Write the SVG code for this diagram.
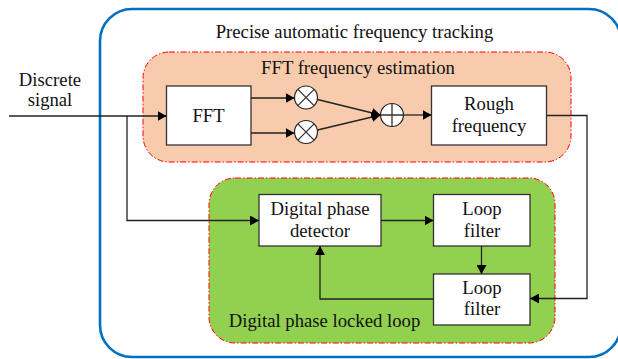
<svg xmlns="http://www.w3.org/2000/svg" width="618" height="359" viewBox="0 0 618 359">
<defs>
<marker id="arr" markerUnits="userSpaceOnUse" markerWidth="9" markerHeight="10" viewBox="0 0 9 10" refX="9" refY="5" orient="auto">
<path d="M0,0 L9,5 L0,10 z" fill="#000"/>
</marker>
</defs>
<style>
text{font-family:"Liberation Serif","Times New Roman",serif;font-size:18.7px;fill:#111;text-anchor:middle}
.box{fill:#fff;stroke:#333;stroke-width:1.3}
.ln{fill:none;stroke:#333;stroke-width:1.3}
.ar{fill:none;stroke:#222;stroke-width:1.3;marker-end:url(#arr)}
.sym{fill:#fff;stroke:#222;stroke-width:1.2}
</style>
<rect width="618" height="359" fill="#fff"/>
<g id="outer">
<rect x="100" y="9" width="521" height="348" rx="32" fill="none" stroke="#0070C0" stroke-width="2.6"/>
<text x="354.5" y="38">Precise automatic frequency tracking</text>
</g>
<g id="fft-group">
<rect x="143" y="52" width="428" height="110" rx="26" fill="#F8CBAD" stroke="#FF0000" stroke-width="1" stroke-dasharray="6,2,1.5,2"/>
<text x="358" y="74">FFT frequency estimation</text>
</g>
<g id="pll-group">
<rect x="209" y="178" width="346" height="165" rx="26" fill="#92D050" stroke="#FF0000" stroke-width="1" stroke-dasharray="6,2,1.5,2"/>
<text x="324.5" y="327">Digital phase locked loop</text>
</g>
<g id="input-label">
<text x="50" y="86">Discrete</text>
<text x="50" y="106">signal</text>
</g>
<g id="fft">
<rect class="box" x="166.5" y="86" width="84.5" height="59"/>
<text x="208.5" y="122">FFT</text>
</g>
<g id="mul1">
<circle class="sym" cx="306" cy="97.5" r="11.5"/>
<path class="ln" d="M297.9,89.4 L314.1,105.6 M314.1,89.4 L297.9,105.6" stroke-width="1.1"/>
</g>
<g id="mul2">
<circle class="sym" cx="306" cy="132" r="11.5"/>
<path class="ln" d="M297.9,123.9 L314.1,140.1 M314.1,123.9 L297.9,140.1" stroke-width="1.1"/>
</g>
<g id="adder">
<circle class="sym" cx="392" cy="115" r="11.5"/>
<path class="ln" d="M380.5,115 L403.5,115 M392,103.5 L392,126.5" stroke-width="1.1"/>
</g>
<g id="rough">
<rect class="box" x="431.5" y="86" width="115" height="59"/>
<text x="489" y="110">Rough</text>
<text x="489" y="132">frequency</text>
</g>
<g id="dpd">
<rect class="box" x="259" y="194.5" width="122" height="51.5"/>
<text x="320" y="215">Digital phase</text>
<text x="320" y="237">detector</text>
</g>
<g id="lf1">
<rect class="box" x="433.5" y="194.5" width="96.5" height="51.5"/>
<text x="482" y="215">Loop</text>
<text x="482" y="237">filter</text>
</g>
<g id="lf2">
<rect class="box" x="433.5" y="274" width="96.5" height="51"/>
<text x="482" y="294">Loop</text>
<text x="482" y="315">filter</text>
</g>
<g id="connectors">
<path class="ar" d="M9,116 L166.5,116"/>
<path class="ar" d="M127,116 L127,220.5 L259,220.5"/>
<path class="ar" d="M251,98 L294.5,98"/>
<path class="ar" d="M251,133 L294.5,133"/>
<path class="ar" d="M317.5,99.5 L380.5,115"/>
<path class="ar" d="M317.5,130 L380.5,115"/>
<path class="ar" d="M403.5,115 L431.5,115"/>
<path class="ar" d="M546.5,115.5 L587,115.5 L587,298.5 L530,298.5"/>
<path class="ar" d="M381,220.5 L433.5,220.5"/>
<path class="ar" d="M481.5,246 L481.5,274"/>
<path class="ar" d="M433.5,299 L320,299 L320,246"/>
</g>
</svg>
